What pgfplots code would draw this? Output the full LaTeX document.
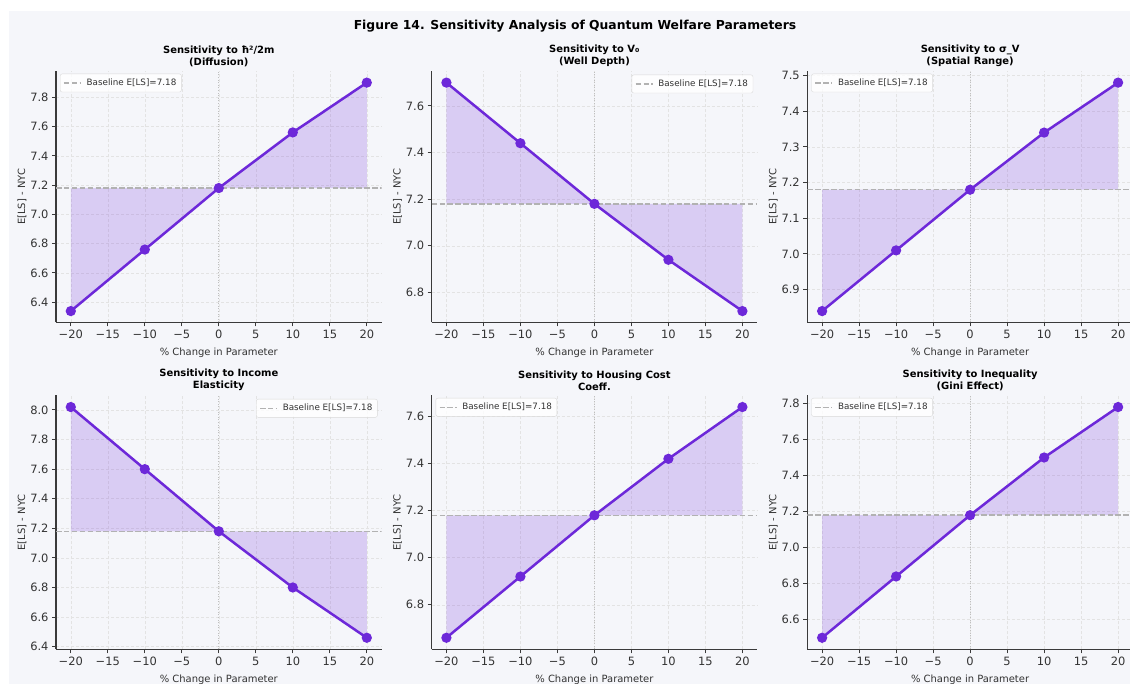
\documentclass[border=0pt]{standalone}
\usepackage{fontspec}
\setmainfont{DejaVu Sans}
\usepackage{pgfplots}
\pgfplotsset{compat=1.18}
\definecolor{figbg}{HTML}{F5F6FA}
\definecolor{lc}{HTML}{6D28D9}
\definecolor{spine}{HTML}{3A3A3A}
\definecolor{txt}{HTML}{333333}
\definecolor{basec}{HTML}{B2B2B2}

\pgfplotsset{
  panel/.style={
    scale only axis, width=325.6bp,
    xmin=-22, xmax=22,
    xtick={-20,-15,...,20},
    xticklabels={−20,−15,−10,−5,0,5,10,15,20},
    axis lines=left,
    axis line style={-, draw=spine, line width=1.1bp},
    tick align=outside, major tick length=4bp,
    tick style={draw=spine, line width=1bp},
    grid=major,
    grid style={dash pattern=on 3bp off 2bp, draw=gray!22, line width=0.5bp},
    /pgf/number format/assume math mode=true,
    yticklabel style={/pgf/number format/.cd, fixed, fixed zerofill, precision=1},
    ticklabel style={font=\fontsize{11.5}{13}\selectfont, text=txt},
    xlabel={\% Change in Parameter}, ylabel={E[LS] - NYC},
    label style={font=\fontsize{10}{12}\selectfont, text=txt},
    xlabel style={at={(axis description cs:0.5,-0.119)}, anchor=center},
    ylabel style={at={(axis description cs:-0.1044,0.5)}, anchor=center},
    title style={font=\bfseries\fontsize{10}{12.2}\selectfont, align=center,
      at={(axis description cs:0.5,1)}, anchor=south, yshift=-5bp},
    legend cell align=left,
    legend image code/.code={\draw[#1] (0bp,0bp) -- (17bp,0bp); \path (20bp,0bp);},
    legend style={font=\fontsize{8.8}{10.5}\selectfont, draw=gray!30, rounded corners=2bp,
      fill=white, fill opacity=0.8, text opacity=1, inner xsep=3bp, inner ysep=3bp,
      text=txt},
    legUL/.style={legend style={at={(axis description cs:0,1)}, anchor=north west, xshift=4bp, yshift=-2.5bp}},
    legUR/.style={legend style={at={(axis description cs:1,1)}, anchor=north east, xshift=-4bp, yshift=-3.5bp}},
  },
  baseline/.style={basec, line width=1.5bp, dash pattern=on 5.5bp off 2.4bp},
  zeroline/.style={gray!50, dash pattern=on 1bp off 1.6bp, line width=0.8bp, forget plot},
  fillarea/.style={draw=none, fill=lc, fill opacity=0.2, forget plot},
  mainline/.style={lc, line width=2.5bp, mark=*, mark size=3.8bp, mark options={fill=lc, draw=lc}, forget plot},
}

\begin{document}
\begin{tikzpicture}
\fill[white] (0bp,0bp) rectangle (1130bp,684bp);
\fill[figbg] (9bp,0bp) rectangle (1130bp,673bp);
\node[font=\bfseries\fontsize{12.4}{14}\selectfont] at (575bp,658bp) {Figure 14. Sensitivity Analysis of Quantum Welfare Parameters};

% Panel 1
\begin{axis}[panel, legUL, at={(56bp,361.5bp)}, anchor=south west, height=251.3bp,
  ymin=6.262, ymax=7.978, ytick={6.4,6.6,...,7.81},
  title={Sensitivity to ħ²/2m\\(Diffusion)}]
\addplot[fillarea] coordinates {(-20,7.18) (-20,6.34) (-10,6.76) (0,7.18) (10,7.56) (20,7.90) (20,7.18)} -- cycle;
\addplot[zeroline] coordinates {(0,6.262) (0,7.978)};
\addplot[mainline] coordinates {(-20,6.34) (-10,6.76) (0,7.18) (10,7.56) (20,7.90)};
\addplot[baseline] coordinates {(-22,7.18) (22,7.18)};
\addlegendentry{Baseline E[LS]=7.18}
\end{axis}

% Panel 2
\begin{axis}[panel, legUR, at={(431.6bp,361.5bp)}, anchor=south west, height=251.3bp,
  ymin=6.671, ymax=7.749, ytick={6.8,7.0,...,7.61},
  title={Sensitivity to V₀\\(Well Depth)}]
\addplot[fillarea] coordinates {(-20,7.18) (-20,7.70) (-10,7.44) (0,7.18) (10,6.94) (20,6.72) (20,7.18)} -- cycle;
\addplot[zeroline] coordinates {(0,6.671) (0,7.749)};
\addplot[mainline] coordinates {(-20,7.70) (-10,7.44) (0,7.18) (10,6.94) (20,6.72)};
\addplot[baseline] coordinates {(-22,7.18) (22,7.18)};
\addlegendentry{Baseline E[LS]=7.18}
\end{axis}

% Panel 3
\begin{axis}[panel, legUL, at={(807.3bp,361.5bp)}, anchor=south west, height=251.3bp,
  ymin=6.808, ymax=7.512, ytick={6.9,7.0,...,7.51},
  title={Sensitivity to σ\_V\\(Spatial Range)}]
\addplot[fillarea] coordinates {(-20,7.18) (-20,6.84) (-10,7.01) (0,7.18) (10,7.34) (20,7.48) (20,7.18)} -- cycle;
\addplot[zeroline] coordinates {(0,6.808) (0,7.512)};
\addplot[mainline] coordinates {(-20,6.84) (-10,7.01) (0,7.18) (10,7.34) (20,7.48)};
\addplot[baseline] coordinates {(-22,7.18) (22,7.18)};
\addlegendentry{Baseline E[LS]=7.18}
\end{axis}

% Panel 4
\begin{axis}[panel, legUR, at={(56bp,34.7bp)}, anchor=south west, height=253.8bp,
  ymin=6.382, ymax=8.098, ytick={6.4,6.6,...,8.01},
  title={Sensitivity to Income\\Elasticity}]
\addplot[fillarea] coordinates {(-20,7.18) (-20,8.02) (-10,7.60) (0,7.18) (10,6.80) (20,6.46) (20,7.18)} -- cycle;
\addplot[zeroline] coordinates {(0,6.382) (0,8.098)};
\addplot[mainline] coordinates {(-20,8.02) (-10,7.60) (0,7.18) (10,6.80) (20,6.46)};
\addplot[baseline] coordinates {(-22,7.18) (22,7.18)};
\addlegendentry{Baseline E[LS]=7.18}
\end{axis}

% Panel 5
\begin{axis}[panel, legUL, at={(431.6bp,34.7bp)}, anchor=south west, height=253.8bp,
  ymin=6.611, ymax=7.689, ytick={6.8,7.0,...,7.61},
  title={Sensitivity to Housing Cost\\Coeff.}]
\addplot[fillarea] coordinates {(-20,7.18) (-20,6.66) (-10,6.92) (0,7.18) (10,7.42) (20,7.64) (20,7.18)} -- cycle;
\addplot[zeroline] coordinates {(0,6.611) (0,7.689)};
\addplot[mainline] coordinates {(-20,6.66) (-10,6.92) (0,7.18) (10,7.42) (20,7.64)};
\addplot[baseline] coordinates {(-22,7.18) (22,7.18)};
\addlegendentry{Baseline E[LS]=7.18}
\end{axis}

% Panel 6
\begin{axis}[panel, legUL, at={(807.3bp,34.7bp)}, anchor=south west, height=253.8bp,
  ymin=6.436, ymax=7.844, ytick={6.6,6.8,...,7.81},
  title={Sensitivity to Inequality\\(Gini Effect)}]
\addplot[fillarea] coordinates {(-20,7.18) (-20,6.50) (-10,6.84) (0,7.18) (10,7.50) (20,7.78) (20,7.18)} -- cycle;
\addplot[zeroline] coordinates {(0,6.436) (0,7.844)};
\addplot[mainline] coordinates {(-20,6.50) (-10,6.84) (0,7.18) (10,7.50) (20,7.78)};
\addplot[baseline] coordinates {(-22,7.18) (22,7.18)};
\addlegendentry{Baseline E[LS]=7.18}
\end{axis}

\pgfresetboundingbox
\useasboundingbox (0bp,0bp) rectangle (1130bp,684bp);
\end{tikzpicture}
\end{document}
